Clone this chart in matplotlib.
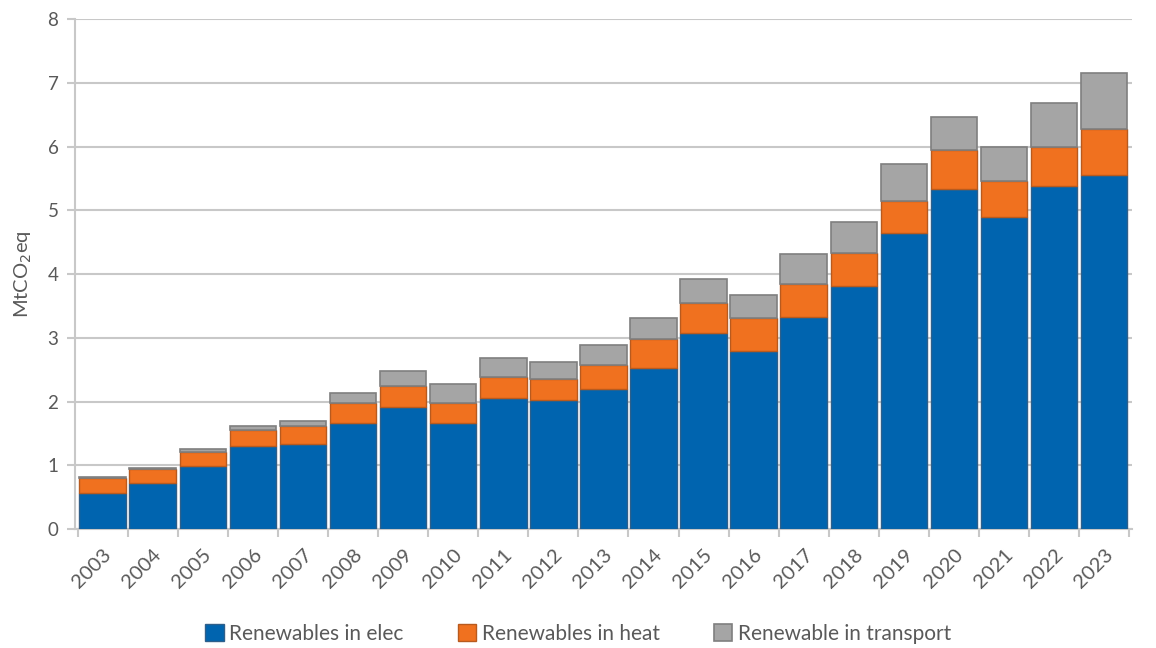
import matplotlib
matplotlib.use("Agg")
import matplotlib.pyplot as plt
import numpy as np

years = [str(y) for y in range(2003, 2024)]
elec = [0.57, 0.72, 0.99, 1.31, 1.34, 1.67, 1.92, 1.66, 2.05, 2.03, 2.20,
        2.53, 3.07, 2.80, 3.33, 3.81, 4.64, 5.34, 4.90, 5.38, 5.55]
heat = [0.23, 0.22, 0.22, 0.25, 0.28, 0.30, 0.33, 0.32, 0.34, 0.33, 0.37,
        0.45, 0.47, 0.51, 0.51, 0.52, 0.51, 0.61, 0.56, 0.62, 0.72]
transport = [0.01, 0.01, 0.05, 0.05, 0.08, 0.17, 0.23, 0.29, 0.30, 0.26, 0.32,
             0.33, 0.39, 0.36, 0.47, 0.48, 0.57, 0.52, 0.54, 0.69, 0.89]

BLUE = "#0064AF"
ORANGE = "#F0711F"
GREY = "#A5A5A5"
TEXT = "#595959"
LINE = "#C8C8C8"

plt.rcParams["font.family"] = ["Lato", "DejaVu Sans"]

fig = plt.figure(figsize=(11.56, 6.48), dpi=100)
ax = fig.add_axes([0.065, 0.1836, 0.914, 0.787])

x = np.arange(len(years))
w = 0.93
elec_a = np.array(elec)
heat_a = np.array(heat)
ax.bar(x, elec, w, color=BLUE, edgecolor="#2F5F8A", lw=1.0, label="Renewables in elec", zorder=3)
ax.bar(x, heat, w, bottom=elec_a, color=ORANGE, edgecolor="#B85A1E", lw=1.0,
       label="Renewables in heat", zorder=3)
ax.bar(x, transport, w, bottom=elec_a + heat_a, color=GREY, edgecolor="#7F7F7F", lw=1.2,
       label="Renewable in transport", zorder=3)

ax.set_xlim(-0.55, len(years) - 0.45)
ax.set_ylim(0, 8)
ax.set_yticks(range(0, 9))
ax.yaxis.grid(True, color=LINE, lw=1.5, zorder=0)
ax.set_axisbelow(True)

ax.set_xticks(x)
ax.set_xticklabels(years, rotation=45, ha="right", rotation_mode="anchor")
ax.set_xticks(np.arange(-0.5, len(years)), minor=True)
ax.tick_params(axis="x", which="major", length=0, pad=12, labelsize=14.5, labelcolor=TEXT)
ax.tick_params(axis="x", which="minor", length=6, width=1.5, color=LINE, direction="out")
ax.tick_params(axis="y", length=6, width=1.5, color=LINE, labelsize=13.5, labelcolor=TEXT, pad=6)

for s in ["top", "right"]:
    ax.spines[s].set_visible(False)
for s in ["left", "bottom"]:
    ax.spines[s].set_color(LINE)
    ax.spines[s].set_linewidth(1.5)

ax.set_ylabel("MtCO$_2$eq", fontsize=14.5, color=TEXT, labelpad=10)

leg = fig.legend(loc="lower center", bbox_to_anchor=(0.5, -0.022), ncol=3, frameon=False,
                 fontsize=15, handlelength=0.9, handleheight=0.9, handletextpad=0.25,
                 columnspacing=2.6)
for t in leg.get_texts():
    t.set_color(TEXT)

fig.savefig("out.png", dpi=100)
